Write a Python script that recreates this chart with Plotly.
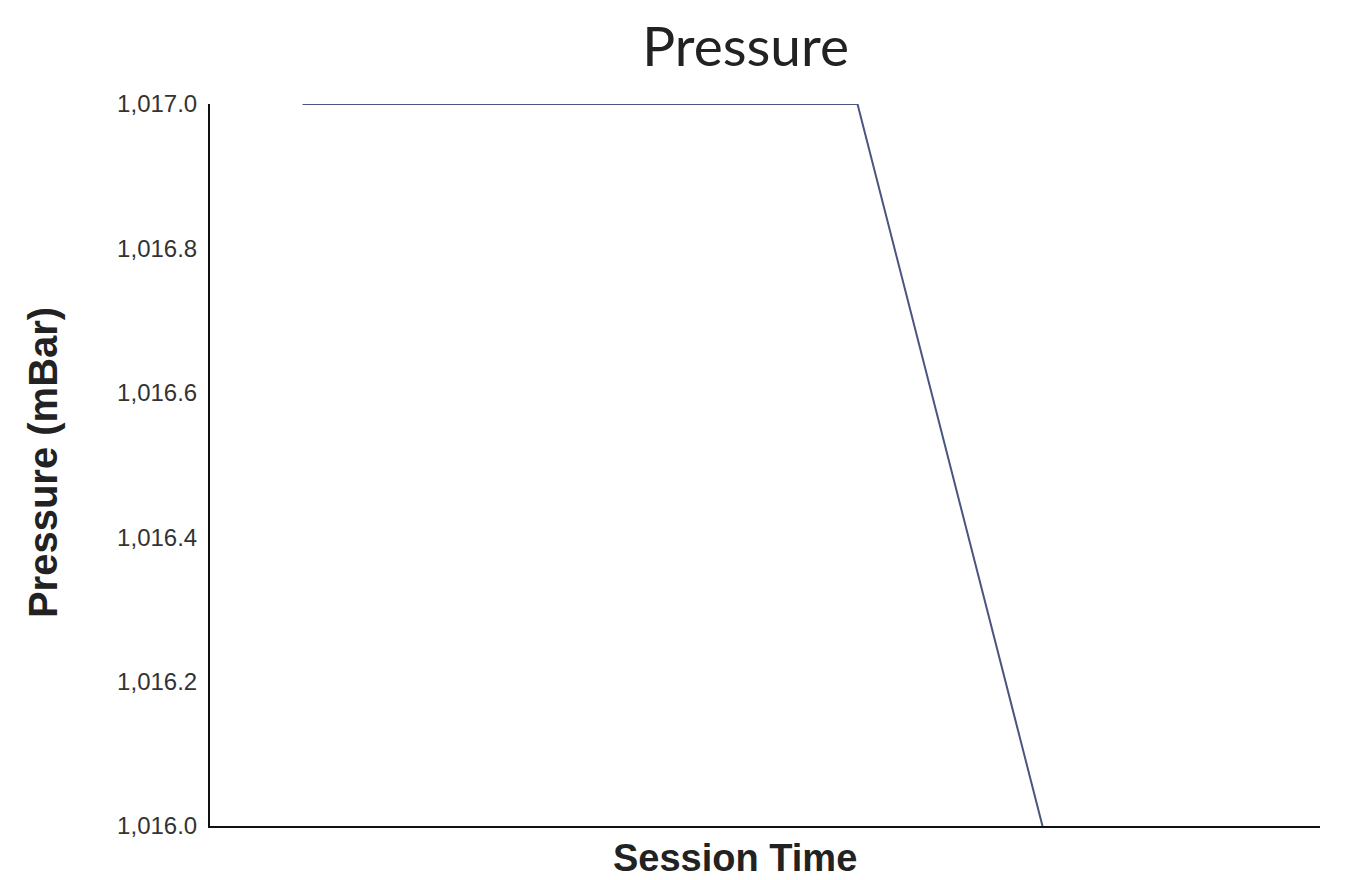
import plotly.graph_objects as go

session_time = [1, 7, 9]
pressure_mbar = [1017.0, 1017.0, 1016.0]
y_ticks = [1016.0, 1016.2, 1016.4, 1016.6, 1016.8, 1017.0]

fig = go.Figure()
fig.add_trace(go.Scatter(
    x=session_time, y=pressure_mbar, mode="lines",
    line=dict(color="#4a5580", width=2), showlegend=False,
))

fig.update_layout(
    width=1351, height=880,
    paper_bgcolor="white", plot_bgcolor="white",
    margin=dict(l=202, r=39, t=96, b=62),
    title=dict(text="Pressure", x=0.546, xanchor="center", y=0.9557, yanchor="middle",
               font=dict(family="Lato", size=55, color="#222")),
    font=dict(family="Liberation Sans, Arial", color="#222"),
    annotations=[
        dict(text="<b>Pressure (mBar)</b>", xref="paper", yref="paper",
             x=-0.1505, y=0.504, xanchor="center", yanchor="middle",
             textangle=-90, showarrow=False, font=dict(size=40, color="#222")),
        dict(text="<b>Session Time</b>", xref="paper", yref="paper",
             x=0.473, y=-0.0443, xanchor="center", yanchor="middle",
             showarrow=False, font=dict(size=38, color="#222")),
    ],
)
fig.update_xaxes(
    range=[0, 12], showgrid=False, zeroline=False, showticklabels=False, ticks="",
    showline=True, linecolor="#111", linewidth=2, automargin=False,
)
fig.update_yaxes(
    range=[1016.0, 1017.0], tickvals=y_ticks, tickformat=",.1f",
    showgrid=False, zeroline=False, ticks="", ticklabelstandoff=6,
    tickfont=dict(size=24, color="#333"),
    showline=True, linecolor="#111", linewidth=2, automargin=False,
)

fig.write_html("out.html")
